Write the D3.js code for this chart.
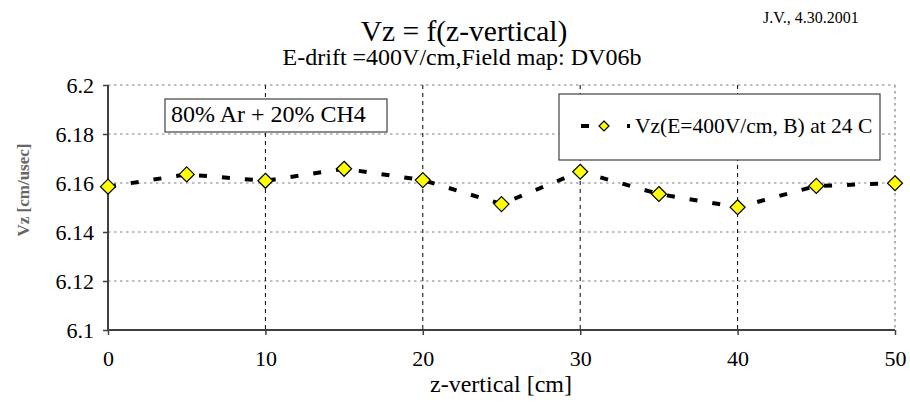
<!DOCTYPE html>
<html><head><meta charset="utf-8">
<script src="https://cdn.jsdelivr.net/npm/d3@7"></script>
<style>body{margin:0;background:#fff}svg{display:block}</style>
</head><body>
<svg id="c" width="910" height="402"></svg>
<script>
const zValues = [0, 5, 10, 15, 20, 25, 30, 35, 40, 45, 50];
const vzValues = [6.1585, 6.1635, 6.1609, 6.1658, 6.1612, 6.1514, 6.1646, 6.1555, 6.1501, 6.1588, 6.1599];
const xTicks = [0, 10, 20, 30, 40, 50];
const yTicks = [6.1, 6.12, 6.14, 6.16, 6.18, 6.2];
const seriesName = "Vz(E=400V/cm, B) at 24 C";

const FONT = "Liberation Serif";
const svg = d3.select("#c");
const x = d3.scaleLinear().domain([0, 50]).range([108, 895]);
const y = d3.scaleLinear().domain([6.1, 6.2]).range([330, 85]);

// grid
const g = svg.append("g");
g.selectAll(".hg").data(yTicks.filter(t => t > 6.1)).join("line")
  .attr("x1", 108).attr("x2", 895).attr("y1", d => y(d)).attr("y2", d => y(d))
  .attr("stroke", "#808080").attr("stroke-width", 1.2).attr("stroke-dasharray", "2.5,3.5");
g.selectAll(".vg").data(xTicks.filter(t => t > 0 && t < 50)).join("line")
  .attr("x1", d => x(d)).attr("x2", d => x(d)).attr("y1", 85).attr("y2", 330)
  .attr("stroke", "#000").attr("stroke-width", 1).attr("stroke-dasharray", "4,4");
g.append("line").attr("x1", x(50)).attr("x2", x(50)).attr("y1", 85).attr("y2", 330)
  .attr("stroke", "#808080").attr("stroke-width", 1.2).attr("stroke-dasharray", "2.5,3.5");

// axes
const xAxis = d3.axisBottom(x).tickValues(xTicks).tickSize(5).tickFormat(d3.format("d"));
const yAxis = d3.axisLeft(y).tickValues(yTicks).tickSize(5).tickFormat(d => String(+d.toFixed(2)));
const xa = svg.append("g").attr("transform", "translate(0,330)").call(xAxis);
const ya = svg.append("g").attr("transform", "translate(108,0)").call(yAxis);
[xa, ya].forEach(a => {
  a.attr("font-family", FONT).attr("font-size", 22);
  a.select(".domain").attr("stroke", "#404040").attr("stroke-width", 2);
  a.selectAll(".tick line").attr("stroke", "#404040").attr("stroke-width", 1.5);
  a.selectAll("text").attr("fill", "#000").attr("font-family", FONT);
});
ya.select(".domain").attr("d", "M0,85V330");
xa.select(".domain").attr("d", "M108,0H895");
xa.selectAll("text").attr("y", 36).attr("dy", 0);
ya.selectAll("text").attr("x", -14).attr("dy", "0.33em");

// line
const line = d3.line().x((d, i) => x(zValues[i])).y(d => y(d));
svg.append("path").datum(vzValues).attr("d", line).attr("fill", "none")
  .attr("stroke", "#000").attr("stroke-width", 4).attr("stroke-dasharray", "8,15");

const diamond = (s) => `M0,${-s}L${s},0L0,${s}L${-s},0Z`;
svg.selectAll(".pt").data(vzValues).join("path")
  .attr("transform", (d, i) => `translate(${x(zValues[i])},${y(d)})`)
  .attr("d", diamond(7.5)).attr("fill", "#ffff00").attr("stroke", "#000").attr("stroke-width", 1.2);

const txt = (xx, yy, size, s, anchor) => svg.append("text").attr("x", xx).attr("y", yy)
  .attr("font-family", FONT).attr("font-size", size).attr("text-anchor", anchor || "middle").text(s);

// titles
txt(464, 41, 29.5, "Vz = f(z-vertical)");
txt(462, 65, 24, "E-drift =400V/cm,Field map: DV06b");
txt(763, 23, 16, "J.V., 4.30.2001", "start");
txt(501, 392, 24, "z-vertical [cm]");
svg.append("text").attr("transform", "translate(29,190) rotate(-90)").attr("text-anchor", "middle")
  .attr("font-family", FONT).attr("font-size", 17).attr("font-weight", "bold").attr("fill", "#666").text("Vz [cm/usec]");

// text box
svg.append("rect").attr("x", 165).attr("y", 99).attr("width", 222).attr("height", 33)
  .attr("fill", "#fff").attr("stroke", "#404040").attr("stroke-width", 1.2);
txt(171, 122, 24, "80% Ar + 20% CH4", "start");

// legend
svg.append("rect").attr("x", 559).attr("y", 94).attr("width", 321).attr("height", 66)
  .attr("fill", "#fff").attr("stroke", "#404040").attr("stroke-width", 1.2);
svg.append("line").attr("x1", 581).attr("x2", 630).attr("y1", 126).attr("y2", 126)
  .attr("stroke", "#000").attr("stroke-width", 4).attr("stroke-dasharray", "8,38,3,20");
svg.append("path").attr("transform", "translate(604,126)").attr("d", diamond(5))
  .attr("fill", "#ffff00").attr("stroke", "#000").attr("stroke-width", 1.2);
txt(635, 133, 21.5, seriesName, "start");
</script>
</body></html>
